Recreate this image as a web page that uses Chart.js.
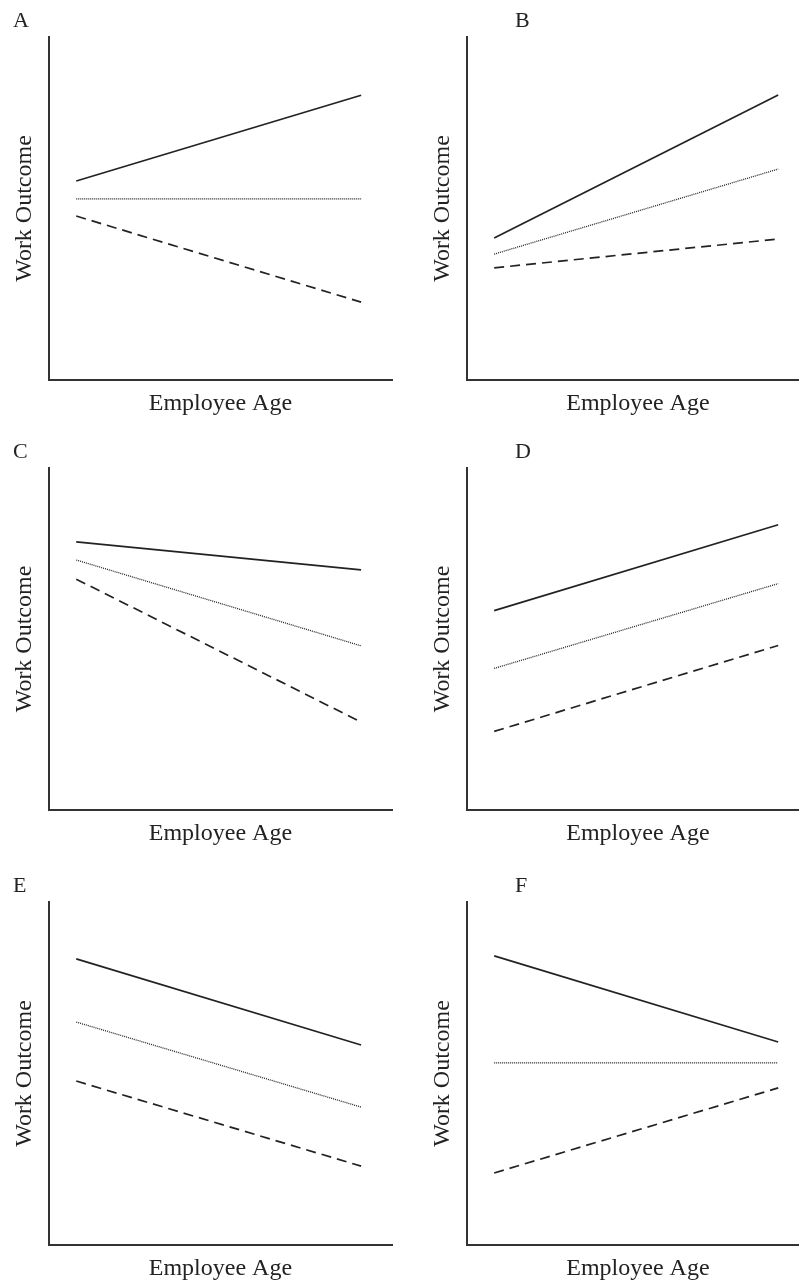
<!DOCTYPE html>
<html>
<head>
<meta charset="utf-8">
<script src="https://cdn.jsdelivr.net/npm/chart.js@4/dist/chart.umd.min.js"></script>
<style>
  html, body { margin: 0; padding: 0; background: #fff; overflow: hidden; width: 799px; height: 1280px; }
  #wrap { position: relative; width: 799px; height: 1280px; overflow: hidden; }
  canvas { position: absolute; }
  .tag { position: absolute; font-family: 'Liberation Serif', 'Times New Roman', serif; font-size: 22px; line-height: 22px; color: #222; }
</style>
</head>
<body>
<div id="wrap"></div>
<script>
// panel letters
const panelLabels = ['A', 'B', 'C', 'D', 'E', 'F'];
// x positions (share of the age axis) where each line starts and ends
const ageX = [8, 91];
// work outcome at low / high age, one pair per panel
const solidY  = [[58, 83], [41.4, 83.1], [78.4, 70.2], [58.3, 83.4], [83.4, 58.3], [84.3, 59.2]];
const dottedY = [[52.8, 52.8], [36.7, 61.5], [73.1, 48], [41.4, 66.2], [65, 40.2], [53.1, 53.1]];
const dashedY = [[47.8, 22.7], [32.7, 41.1], [67.5, 25.7], [23, 48.1], [47.8, 23], [21, 45.8]];
const xTitle = 'Employee Age';
const yTitle = 'Work Outcome';

const serif = "'Liberation Serif', 'Times New Roman', serif";
const ink = '#222';

// row/column placement of the small multiples
const rowTop = [0, 420, 850];
const rowHeight = [420, 430, 435];
const rowPadTop = [37, 48, 52];
const tagTop = [9, 440, 874];

const wrap = document.getElementById('wrap');

function pts(ys) {
  return ageX.map((x, i) => ({ x: x, y: ys[i] }));
}

panelLabels.forEach((label, i) => {
  const row = Math.floor(i / 2);
  const col = i % 2;

  const canvas = document.createElement('canvas');
  const w = col === 0 ? 400 : 410;
  canvas.width = w;
  canvas.height = rowHeight[row];
  canvas.style.left = (col * 400) + 'px';
  canvas.style.top = rowTop[row] + 'px';
  wrap.appendChild(canvas);

  const tag = document.createElement('div');
  tag.className = 'tag';
  tag.textContent = label;
  tag.style.left = (col === 0 ? 13 : 515) + 'px';
  tag.style.top = tagTop[row] + 'px';
  wrap.appendChild(tag);

  new Chart(canvas.getContext('2d'), {
    type: 'line',
    data: {
      datasets: [
        { label: 'solid', data: pts(solidY[i]), borderColor: ink, borderWidth: 1.7, pointRadius: 0 },
        { label: 'dotted', data: pts(dottedY[i]), borderColor: '#222', borderWidth: 1.3, borderDash: [1, 1], pointRadius: 0 },
        { label: 'dashed', data: pts(dashedY[i]), borderColor: ink, borderWidth: 1.7, borderDash: [10, 6], pointRadius: 0 }
      ]
    },
    options: {
      responsive: false,
      animation: false,
      events: [],
      layout: {
        padding: { top: rowPadTop[row], left: col === 0 ? 6 : 24, right: col === 0 ? 8 : 1, bottom: 0 }
      },
      plugins: { legend: { display: false }, tooltip: { enabled: false } },
      scales: {
        x: {
          type: 'linear', min: 0, max: 100,
          grid: { display: false, drawTicks: false },
          border: { display: true, color: '#333', width: 2 },
          ticks: { display: false },
          title: { display: true, text: xTitle, color: ink, padding: { top: 9.6, bottom: 1.6 },
                   font: { family: serif, size: 24, lineHeight: 1.2 } }
        },
        y: {
          min: 0, max: 100,
          grid: { display: false, drawTicks: false },
          border: { display: true, color: '#333', width: 2 },
          ticks: { display: false },
          title: { display: true, text: yTitle, color: ink, padding: { top: 4, bottom: 10 },
                   font: { family: serif, size: 24, lineHeight: 1.2 } }
        }
      }
    }
  });
});
</script>
</body>
</html>
